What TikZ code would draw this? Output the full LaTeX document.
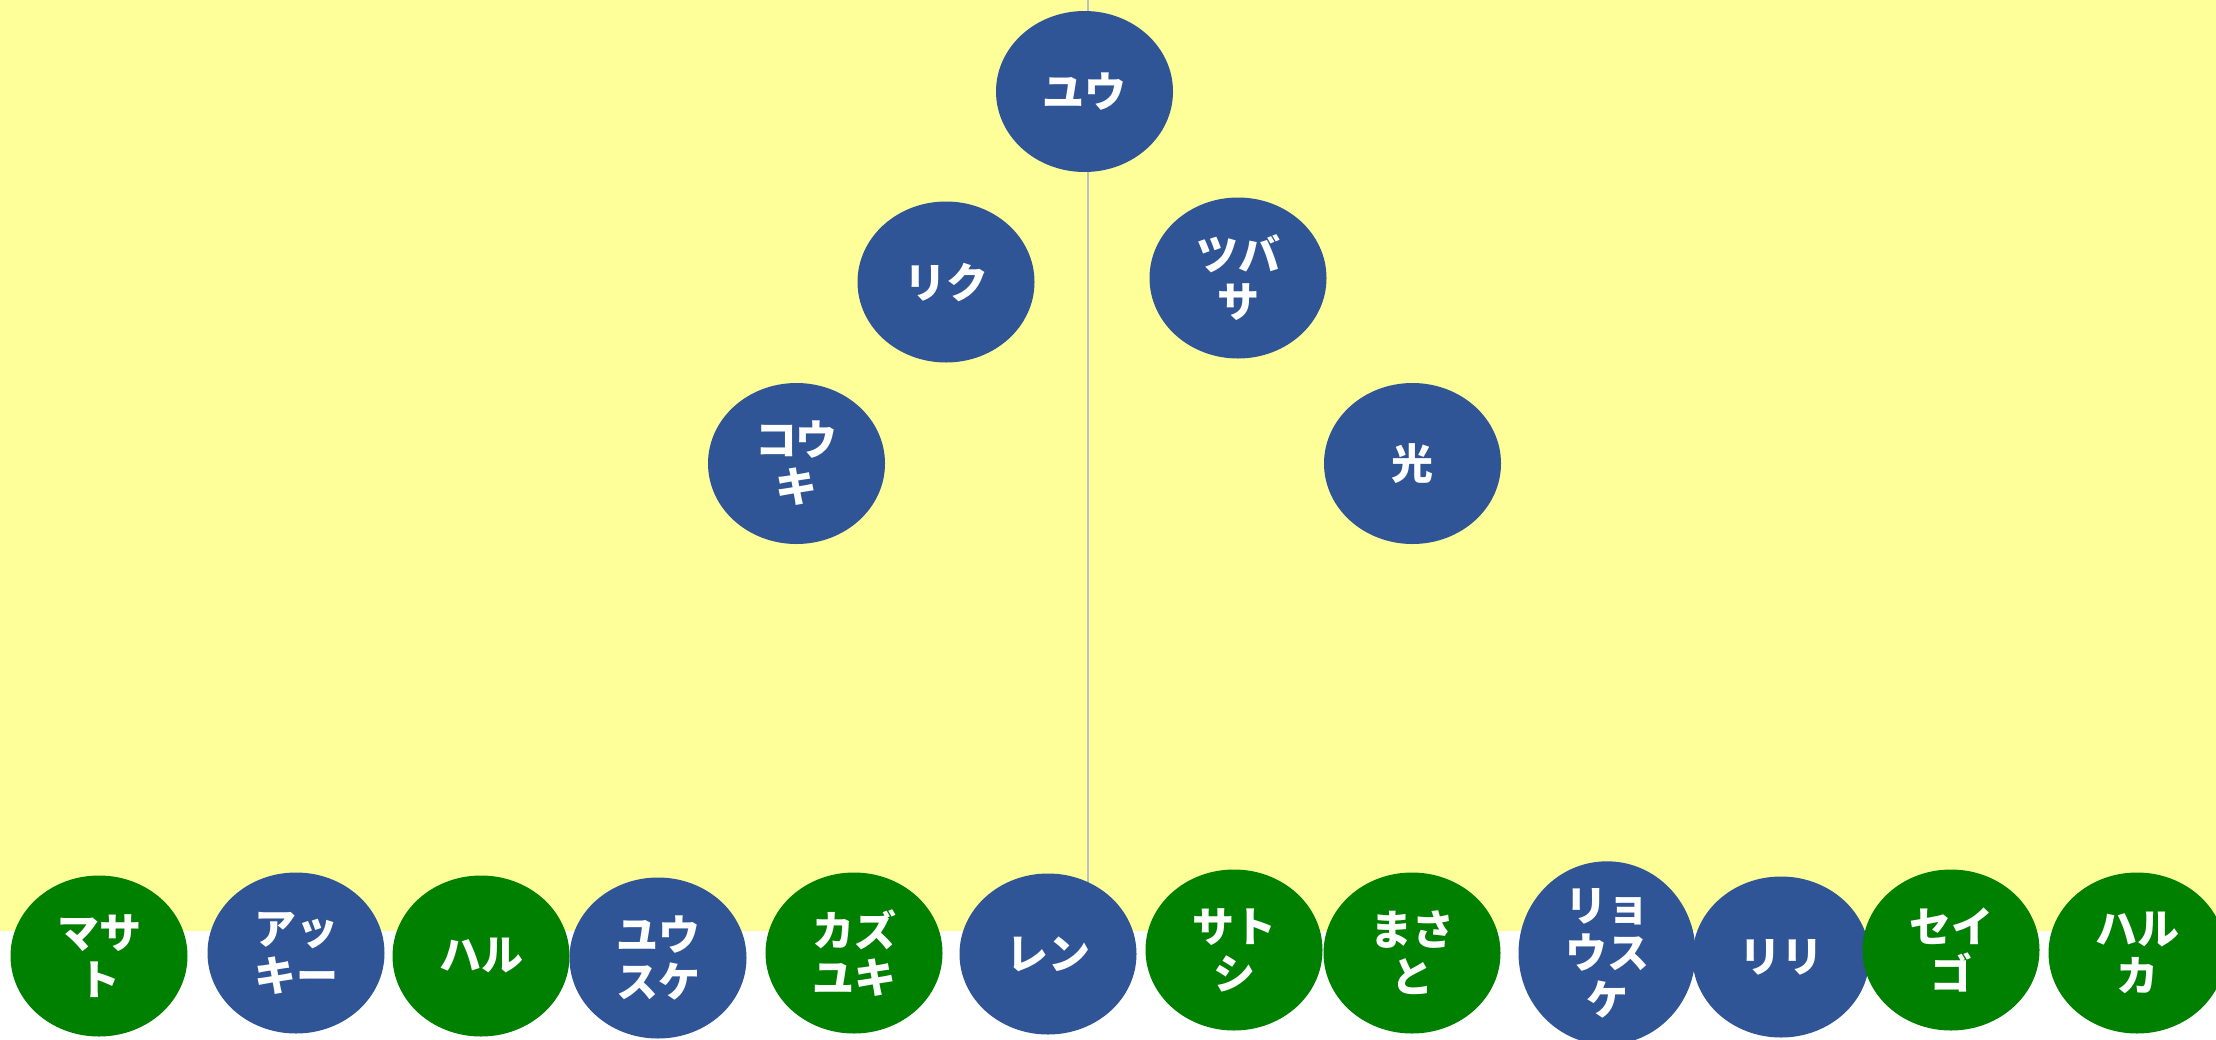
\documentclass[tikz,border=0pt]{standalone}
\usepackage{fontspec}
\newfontfamily\jpfont{Noto Sans CJK JP}
\usetikzlibrary{shapes.geometric,backgrounds}
\definecolor{bgyellow}{HTML}{FFFF99}
\definecolor{nblue}{HTML}{2F5597}
\definecolor{ngreen}{HTML}{008000}
\definecolor{lgray}{HTML}{BFBFBF}
\begin{document}
\begin{tikzpicture}[x=0.5pt,y=-0.5pt,
  person/.style={ellipse, minimum width=88.5pt, minimum height=80.5pt, inner sep=0pt,
    text=white, align=center, font=\jpfont\bfseries\fontsize{21}{23.5}\selectfont},
  boy/.style={person, fill=nblue},
  girl/.style={person, fill=ngreen},
  link/.style={draw=lgray, line width=1.2pt}]
\useasboundingbox (0,0) rectangle (2216,1039);
% upper nodes
\node[boy] (yu) at (1084.5,91.5) {ユウ};
\node[boy] (riku) at (946,282) {リク};
\node[boy] (tsubasa) at (1238,278) {ツバ\\サ};
\node[boy] (kouki) at (796.5,463.5) {コウ\\キ};
\node[boy] (hikari) at (1412.5,463.5) {光};
% bottom row
\node[girl] (masato) at (99,956) {マサ\\ト};
\node[boy] (akki) at (296,953) {アッ\\キー};
\node[girl] (haru) at (481,956) {ハル};
\node[boy] (yusuke) at (658,958) {ユウ\\スケ};
\node[girl] (kazuyuki) at (854,953) {カズ\\ユキ};
\node[boy] (ren) at (1048,954) {レン};
\node[girl] (satoshi) at (1234,950) {サト\\シ};
\node[girl] (masato2) at (1412,953) {まさ\\と};
\node[boy] (ryosuke) at (1607,953) {リョ\\ウス\\ケ};
\node[boy] (riri) at (1781,957) {リリ};
\node[girl] (seigo) at (1951,950) {セイ\\ゴ};
\node[girl] (haruka) at (2137,953) {ハル\\カ};
\begin{scope}[on background layer]
  \fill[white] (0,0) rectangle (2216,1039);
  \fill[bgyellow] (0,0) rectangle (2216,931);
  \coordinate (top) at (1088,0);
  \draw[link] (top) -- (top |- ren.center);
\end{scope}
\end{tikzpicture}
\end{document}
